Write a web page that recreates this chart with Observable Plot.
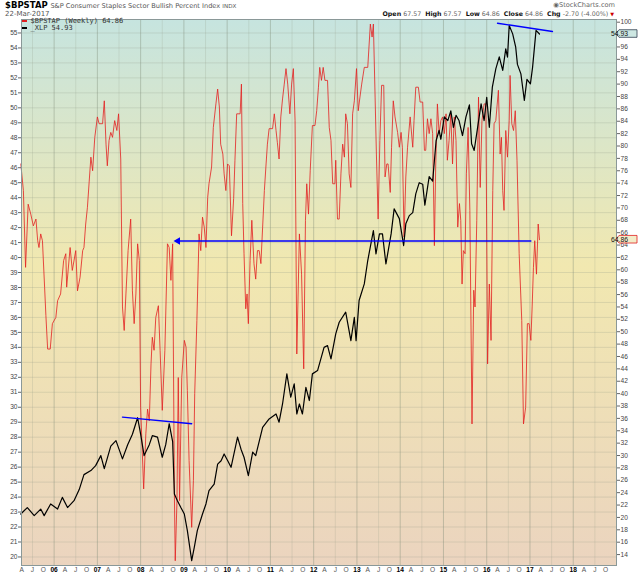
<!DOCTYPE html>
<html><head><meta charset="utf-8">
<script src="https://cdn.jsdelivr.net/npm/d3@7"></script>
<script src="https://cdn.jsdelivr.net/npm/@observablehq/plot@0.6"></script>
<style>
body{margin:0;background:#fff;}
#wrap{position:relative;width:640px;height:576px;overflow:hidden;font-family:"DejaVu Sans",sans-serif;font-size:7px;}
#chart{position:absolute;left:0;top:0;}
.abs{position:absolute;white-space:nowrap;line-height:1;}
.lg{font-family:"DejaVu Sans Mono",monospace;font-size:7px;color:#333;}
.dash{display:inline-block;width:5px;height:1.6px;vertical-align:middle;margin-right:4px;}
</style></head><body>
<div id="wrap">
  <div id="chart"></div>
  <div class="abs" style="left:5px;top:1px;font-size:8.5px;"><span style="font-weight:bold;font-size:8.5px;color:#000">$BPSTAP</span> <span style="font-size:6.6px;color:#555">S&amp;P Consumer Staples Sector Bullish Percent Index <span style="font-size:5.6px">INDX</span></span></div>
  <div class="abs" style="left:5px;top:10.5px;font-size:7px;color:#555">22-Mar-2017</div>
  <div class="abs" style="right:25px;top:2px;font-size:6.6px;color:#666">&#9673;StockCharts.com</div>
  <div class="abs" style="right:26px;top:11px;font-size:6.3px;color:#666"><b style="color:#111">Open</b> 67.57 &nbsp;<b style="color:#111">High</b> 67.57 &nbsp;<b style="color:#111">Low</b> 64.86 &nbsp;<b style="color:#111">Close</b> 64.86 &nbsp;<b style="color:#111">Chg</b> -2.70 (-4.00%) <span style="color:#c00;font-size:5px">&#9660;</span></div>
  <div class="abs lg" style="left:21.5px;top:18px;"><span class="dash" style="background:#e02020"></span>$BPSTAP (Weekly) 64.86</div>
  <div class="abs lg" style="left:21.5px;top:25px;"><span class="dash" style="background:#000"></span>_XLP 54.93</div>
</div>
<script>
// ---- data (decimal years) ----
const bpiWeeks = [2005.23,2005.29,2005.34,2005.40,2005.46,2005.52,2005.58,2005.62,2005.65,2005.69,2005.73,2005.78,2005.81,2005.85,2005.91,2005.96,
2006.04,2006.08,2006.15,2006.22,2006.27,2006.29,2006.37,2006.42,2006.50,2006.54,2006.60,2006.66,2006.69,2006.73,2006.77,2006.81,2006.85,2006.89,2006.94,
2007.00,2007.04,2007.12,2007.16,2007.20,2007.23,2007.27,2007.31,2007.35,2007.40,2007.45,2007.49,2007.54,2007.58,2007.62,2007.66,2007.71,2007.77,2007.81,2007.85,2007.89,2007.93,2007.97,
2008.00,2008.07,2008.12,2008.16,2008.20,2008.24,2008.27,2008.31,2008.35,2008.41,2008.45,2008.50,2008.56,2008.62,2008.66,2008.70,2008.74,2008.78,2008.80,2008.84,2008.87,2008.90,2008.95,
2009.01,2009.05,2009.08,2009.12,2009.18,2009.22,2009.25,2009.30,2009.35,2009.39,2009.43,2009.47,2009.51,2009.55,2009.58,2009.64,2009.68,2009.74,2009.78,2009.82,2009.85,2009.90,2009.93,2009.97,
2010.01,2010.05,2010.10,2010.15,2010.18,2010.22,2010.30,2010.33,2010.36,2010.39,2010.43,2010.46,2010.49,2010.53,2010.57,2010.62,2010.66,2010.70,2010.74,2010.78,2010.82,2010.86,2010.90,2010.93,2010.97,
2011.05,2011.09,2011.13,2011.16,2011.20,2011.24,2011.28,2011.32,2011.36,2011.40,2011.45,2011.49,2011.53,2011.57,2011.61,2011.67,2011.72,2011.77,2011.81,2011.84,2011.88,2011.92,2011.97,
2012.03,2012.07,2012.11,2012.14,2012.18,2012.22,2012.26,2012.32,2012.36,2012.40,2012.44,2012.49,2012.51,2012.55,2012.59,2012.63,2012.67,2012.71,2012.74,2012.78,2012.82,2012.86,2012.90,2012.94,2012.99,
2013.03,2013.07,2013.11,2013.17,2013.25,2013.31,2013.35,2013.38,2013.42,2013.45,2013.49,2013.53,2013.57,2013.62,2013.65,2013.69,2013.72,2013.77,2013.80,2013.84,2013.88,2013.94,2013.98,
2014.02,2014.05,2014.09,2014.13,2014.17,2014.23,2014.29,2014.32,2014.36,2014.42,2014.46,2014.52,2014.56,2014.59,2014.63,2014.67,2014.71,2014.75,2014.79,2014.82,2014.86,2014.90,2014.94,2014.98,
2015.02,2015.06,2015.09,2015.13,2015.17,2015.21,2015.25,2015.29,2015.33,2015.37,2015.40,2015.43,2015.46,2015.50,2015.53,2015.57,2015.61,2015.66,2015.70,2015.73,2015.77,2015.81,2015.85,2015.89,2015.94,2015.98,
2016.02,2016.06,2016.10,2016.14,2016.17,2016.21,2016.27,2016.31,2016.34,2016.37,2016.40,2016.44,2016.48,2016.52,2016.54,2016.58,2016.62,2016.66,2016.70,2016.75,2016.81,2016.85,2016.90,2016.94,2016.98,
2017.02,2017.05,2017.08,2017.11,2017.15,2017.19,2017.22];
const bpiValues = [77.1,72.8,60.4,70.6,69.0,67.1,68.2,64.7,63.6,65.8,64.7,57.2,52.6,47.2,47.2,51.3,
52.3,55.0,56.1,61.5,62.6,57.2,63.6,59.9,63.1,56.6,58.8,63.1,63.6,67.4,70.1,74.2,78.2,76.0,81.4,
84.7,83.6,83.6,87.3,80.3,76.8,80.9,82.2,81.4,84.1,82.5,85.2,77.9,54.0,50.2,56.1,63.1,68.2,56.6,51.3,56.1,64.2,61.5,
37.8,24.6,33.5,37.5,35.6,44.8,49.1,47.0,52.3,54.2,47.0,37.3,47.0,64.2,63.6,58.3,64.2,23.8,13.0,22.7,42.6,22.7,42.6,
48.6,47.5,40.5,29.2,18.4,26.0,40.0,51.8,65.8,63.1,68.5,66.9,63.6,71.7,73.9,76.6,83.0,86.8,89.2,86.3,80.3,78.7,75.5,72.8,
77.1,76.8,65.5,71.5,77.7,85.2,85.2,90.0,70.7,62.6,53.7,56.1,51.3,61.5,68.0,61.0,58.5,63.1,63.1,61.0,66.9,72.8,77.1,80.3,82.8,
82.8,85.2,82.5,80.6,77.9,84.7,87.6,90.0,92.5,90.0,85.2,90.0,92.5,84.1,46.4,65.8,59.3,44.0,68.0,73.9,69.0,76.0,83.3,
83.3,85.7,89.5,92.7,90.6,92.7,90.6,90.6,83.0,80.9,73.9,73.9,77.7,68.2,68.2,75.5,80.3,78.2,85.2,83.6,75.5,73.3,85.2,87.3,92.5,
85.7,87.9,90.0,92.7,92.7,99.7,97.6,99.7,87.9,78.7,68.2,80.9,89.8,89.8,75.0,77.1,77.1,72.5,79.8,87.3,84.7,82.2,79.8,
82.2,79.8,65.3,75.0,79.8,84.7,79.8,84.1,89.5,89.5,87.1,87.1,79.3,79.3,84.4,82.0,84.4,82.0,63.9,76.6,86.8,82.0,84.1,84.7,
82.0,85.2,77.7,80.9,85.2,77.1,84.7,80.9,66.9,70.7,68.0,57.7,63.1,62.6,75.5,83.0,69.6,35.1,56.7,54.0,68.0,87.9,73.3,84.1,86.8,86.8,
44.8,57.7,48.6,72.8,83.6,84.1,89.0,78.7,81.4,72.8,69.6,82.5,78.2,84.1,91.4,83.6,82.5,85.7,77.7,62.6,51.8,35.1,37.8,51.3,51.3,
48.6,54.0,60.4,64.7,59.3,67.4,64.86];

const xlpWeeks = [2005.23,2005.38,2005.54,2005.69,2005.77,2005.92,2006.08,2006.19,2006.31,2006.46,2006.58,2006.69,2006.85,2006.96,
2007.08,2007.16,2007.31,2007.43,2007.50,2007.58,2007.70,2007.81,2007.93,2008.00,2008.08,2008.20,2008.27,2008.39,2008.50,2008.58,2008.66,2008.74,2008.78,2008.85,2008.93,
2009.01,2009.08,2009.18,2009.24,2009.31,2009.43,2009.51,2009.58,2009.70,2009.78,2009.86,2009.93,
2010.01,2010.09,2010.24,2010.32,2010.39,2010.49,2010.59,2010.66,2010.82,2010.97,2011.13,2011.20,2011.28,2011.38,2011.47,2011.55,2011.61,2011.67,2011.74,2011.82,2011.90,2011.97,
2012.09,2012.24,2012.32,2012.40,2012.51,2012.59,2012.74,2012.86,2012.94,2012.98,2013.05,2013.17,2013.25,2013.38,2013.44,2013.52,2013.59,2013.67,2013.79,2013.86,2013.98,
2014.08,2014.13,2014.21,2014.29,2014.36,2014.44,2014.52,2014.57,2014.67,2014.75,2014.83,2014.90,2014.94,
2015.02,2015.10,2015.17,2015.23,2015.29,2015.36,2015.44,2015.52,2015.60,2015.65,2015.71,2015.79,2015.87,2015.94,
2016.00,2016.06,2016.13,2016.21,2016.29,2016.37,2016.44,2016.48,2016.52,2016.60,2016.67,2016.71,2016.79,2016.87,2016.93,
2017.01,2017.06,2017.14,2017.22];
const xlpValues = [22.87,23.30,22.76,23.20,22.76,23.54,23.20,23.98,23.30,23.76,24.50,25.50,25.77,26.10,
26.77,25.90,27.40,27.77,27.20,26.55,27.50,28.20,29.30,28.20,26.77,27.50,28.10,28.00,26.66,27.50,28.90,27.70,24.20,23.76,23.30,
22.87,21.76,19.75,20.64,21.76,22.87,23.54,24.43,24.87,26.20,26.43,26.88,
26.44,25.99,28.00,27.20,26.66,25.43,27.00,26.77,28.66,29.22,29.55,29.00,30.22,32.23,30.67,31.56,29.55,30.22,29.55,31.33,30.45,32.23,
32.45,34.00,34.12,33.23,34.90,35.68,36.35,34.45,36.00,34.45,37.13,38.24,39.80,41.80,40.24,41.58,41.58,39.57,41.58,43.25,42.60,
40.80,42.25,42.80,43.00,44.25,45.00,44.90,43.50,45.40,45.10,47.80,48.50,47.90,
49.40,49.15,49.80,48.70,49.50,49.15,48.15,49.40,50.20,47.60,47.15,48.70,50.27,49.15,
50.70,48.70,51.38,52.60,53.40,52.50,53.94,53.38,55.50,54.94,54.05,52.90,52.27,50.49,51.90,
51.60,52.70,55.17,54.93];

// annotation lines drawn on the original (blue)
const trendTopWeeks = [2016.25, 2017.52];   const trendTopValues = [55.65, 55.10];
const trend2008Weeks = [2007.58, 2009.18];  const trend2008Values = [29.34, 28.90];
const arrowWeeks = [2017.02, 2008.86];       const arrowValues = [41.1, 41.1];

// axes (98 is hidden under the last-value tag in the original)
const leftTicks = d3.range(20, 56, 1);
const rightTicks = [14,16,18,20,22,24,26,28,30,32,34,36,38,40,42,44,46,48,50,52,54,56,58,60,62,64,66,68,70,72,74,76,78,80,82,84,86,88,90,92,94,96,100];
const yearTicks = [2006,2007,2008,2009,2010,2011,2012,2013,2014,2015,2016,2017,2018];
const yearLabels = ["06","07","08","09","10","11","12","13","14","15","16","17","18"];
const quarterLetters = ["A","J","O"];
const lastXlp = 54.93, lastBpi = 64.86;

// right-axis (BPI %) to left-axis (XLP $) alignment
const rightRef = [14, 100], leftRef = [20.16, 55.72];
const toLeft = d3.scaleLinear().domain(rightRef).range(leftRef);

const bpi = bpiWeeks.map((t, i) => ({t, v: bpiValues[i]}));
const xlp = xlpWeeks.map((t, i) => ({t, v: xlpValues[i]}));
const seg = (ws, vs, g) => ws.map((t, i) => ({t, v: vs[i], g}));
const blueLines = [...seg(trendTopWeeks, trendTopValues, "a"), ...seg(trend2008Weeks, trend2008Values, "b"), ...seg(arrowWeeks, arrowValues, "c")];

const quarterTicks = [];
for (let y = 2005; y <= 2018; y++) for (const q of [0.25, 0.5, 0.75]) quarterTicks.push(y + q);
const julyTicks = d3.range(2005, 2019).map(y => y + 0.5);

const plot = Plot.plot({
  width: 640, height: 576,
  marginTop: 19, marginBottom: 11, marginLeft: 21, marginRight: 24,
  style: {fontFamily: "'Liberation Sans', Arial, sans-serif", fontSize: "6.6px", background: "transparent", overflow: "visible"},
  x: {type: "linear", domain: [2005.246, 2019.0]},
  y: {domain: [19.43, 55.9]},
  marks: [
    Plot.frame({fill: "url(#bgGrad)"}),
    Plot.ruleY(leftTicks, {stroke: "#8e9a86", strokeOpacity: 0.35, strokeWidth: 0.7}),
    Plot.ruleX(julyTicks, {stroke: "#8e9a86", strokeOpacity: 0.3, strokeWidth: 0.7}),
    Plot.ruleX(yearTicks, {stroke: "#7d8a76", strokeOpacity: 0.5, strokeWidth: 0.8}),
    Plot.line(bpi, {x: "t", y: d => toLeft(d.v), stroke: "#e32222", strokeWidth: 0.9, strokeOpacity: 0.9}),
    Plot.line(xlp, {x: "t", y: "v", stroke: "#000", strokeWidth: 1.2}),
    Plot.line(blueLines, {x: "t", y: "v", z: "g", stroke: "#0000ff", strokeWidth: 1.4}),
    Plot.dot([{t: arrowWeeks[1], v: arrowValues[1]}], {x: "t", y: "v", symbol: "triangle2", rotate: -90, r: 3.6, fill: "#0000ff", stroke: "none"}),
    Plot.frame({stroke: "#8a9898", strokeWidth: 1}),
    Plot.axisY(leftTicks, {anchor: "left", label: null, tickSize: 3, tickPadding: 1, stroke: "#666", fill: "#444"}),
    Plot.axisY(rightTicks.map(toLeft), {anchor: "right", label: null, tickSize: 3, tickPadding: 1, stroke: "#666", fill: "#444",
      tickFormat: d => String(Math.round(toLeft.invert(d)))}),
    Plot.axisX(quarterTicks, {anchor: "bottom", label: null, tickSize: 0, tickPadding: 2, fill: "#555",
      tickFormat: d => quarterLetters[Math.round((d - Math.floor(d)) * 4) - 1]}),
    Plot.axisX(yearTicks, {anchor: "bottom", label: null, tickSize: 0, tickPadding: 2, fill: "#000", fontWeight: "bold",
      tickFormat: d => yearLabels[yearTicks.indexOf(d)]})
  ]
});
document.getElementById("chart").appendChild(plot);

// gradient background for the plot frame
const svg = d3.select(plot);
const grad = svg.insert("defs", ":first-child").append("linearGradient")
  .attr("id", "bgGrad").attr("x1", 0).attr("y1", 0).attr("x2", 0).attr("y2", 1);
[["0%", "#c6e4df"], ["45%", "#f1e8b0"], ["100%", "#ebd4bf"]].forEach(([o, c]) => grad.append("stop").attr("offset", o).attr("stop-color", c));

// last-value tags on the right axis
const ys = plot.scale("y"), xs = plot.scale("x");
const xr = xs.range[1];
function tag(v, label, stroke, fill) {
  const y = ys.apply(v);
  const g = svg.append("g");
  g.append("path").attr("d", `M${xr},${y} L${xr + 3},${y - 3.8} L${xr + 21},${y - 3.8} L${xr + 21},${y + 3.8} L${xr + 3},${y + 3.8} Z`)
    .attr("fill", fill).attr("stroke", stroke).attr("stroke-width", 0.8);
  g.append("text").attr("x", xr + 3.5).attr("y", y).attr("dy", "0.35em").attr("font-size", 6.8)
    .attr("fill", "#111").text(label.toFixed(2));
}
tag(lastXlp, lastXlp, "#304050", "#cde7e2");
tag(toLeft(lastBpi), lastBpi, "#e02020", "#f3ecc8");
</script>
</body></html>
